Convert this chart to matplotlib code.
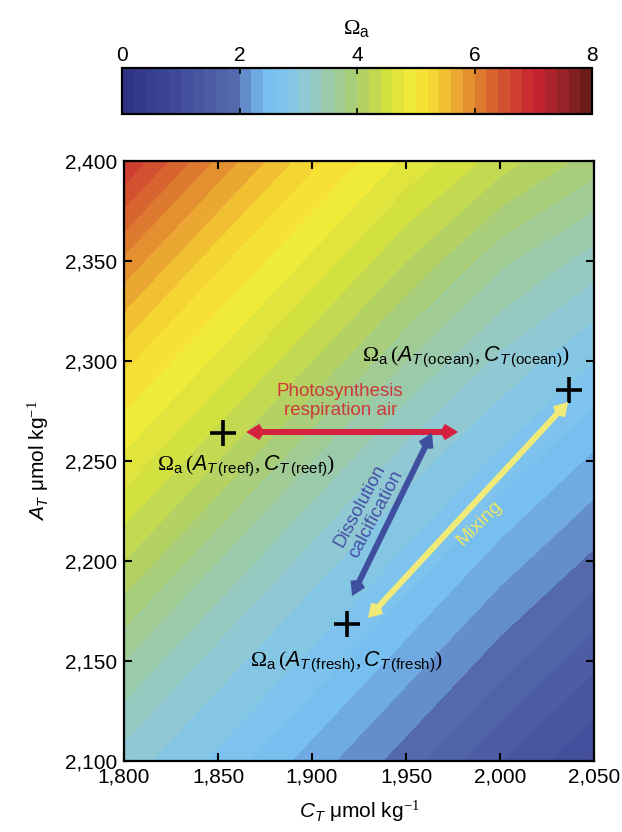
import numpy as np
import matplotlib
matplotlib.use("Agg")
import matplotlib.pyplot as plt
from matplotlib.colors import LinearSegmentedColormap

plt.rcParams["font.family"] = ["Liberation Sans", "DejaVu Sans"]
plt.rcParams["mathtext.fontset"] = "custom"
plt.rcParams["mathtext.rm"] = "Liberation Serif"
plt.rcParams["mathtext.it"] = "Liberation Sans:italic"
plt.rcParams["mathtext.sf"] = "Liberation Sans"

# grid of C_T (columns) and A_T (rows), umol/kg
ct_grid = [1800, 1850, 1900, 1950, 2000, 2050]
at_grid = [2100, 2150, 2200, 2250, 2300, 2350, 2400]
# aragonite saturation at each grid node
omega = [
    [3.10, 2.75, 2.30, 1.90, 1.40, 1.00],
    [3.60, 3.10, 2.75, 2.30, 1.90, 1.45],
    [4.20, 3.60, 3.10, 2.75, 2.30, 1.95],
    [4.75, 4.20, 3.60, 3.10, 2.75, 2.35],
    [5.25, 4.75, 4.20, 3.60, 3.15, 2.80],
    [5.95, 5.25, 4.75, 4.20, 3.65, 3.30],
    [6.80, 5.95, 5.25, 4.75, 4.30, 3.90],
]

# end members (C_T, A_T)
reef = (1852.7, 2264.0)
ocean = (2036.7, 2285.5)
fresh = (1918.6, 2168.5)

# process vectors (start, end) in (C_T, A_T)
photo_arrow = ((1865.0, 2264.5), (1977.7, 2264.5))
calc_arrow = ((1921.3, 2182.5), (1963.8, 2264.0))
mix_arrow = ((1929.8, 2171.5), (2036.2, 2279.5))

colors = [
    (0.00, (45, 50, 130)), (0.12, (65, 75, 155)), (0.24, (85, 105, 172)),
    (0.25, (95, 125, 190)), (0.28, (108, 165, 222)), (0.31, (118, 190, 238)),
    (0.35, (128, 197, 236)), (0.39, (145, 200, 210)), (0.45, (158, 202, 160)),
    (0.50, (172, 206, 110)), (0.56, (208, 223, 65)), (0.62, (245, 235, 55)),
    (0.67, (245, 210, 50)), (0.72, (232, 160, 50)), (0.76, (222, 125, 48)),
    (0.82, (210, 75, 48)), (0.88, (200, 35, 50)), (0.94, (150, 35, 40)),
    (1.00, (100, 25, 25)),
]
cmap = LinearSegmentedColormap.from_list(
    "omega", [(p, tuple(c / 255 for c in rgb)) for p, rgb in colors], N=512)

fig = plt.figure(figsize=(6.22, 8.32), dpi=100)
ax = fig.add_axes([124 / 622, 1 - 761 / 832, 470 / 622, 600 / 832])
cax = fig.add_axes([122 / 622, 1 - 114 / 832, 470 / 622, 46 / 832])

levels = np.arange(0, 8.01, 0.2)
cf = ax.contourf(ct_grid, at_grid, omega, levels=levels, cmap=cmap)

# markers for end members
for pt in (reef, ocean, fresh):
    ax.plot(*pt, marker="+", color="black", markersize=19, mew=2.6)

def arrow(seg, color):
    ax.annotate("", xy=seg[1], xytext=seg[0],
                arrowprops=dict(arrowstyle="<->,head_length=0.65,head_width=0.4",
                                color=color, lw=4.3, shrinkA=0, shrinkB=0,
                                joinstyle="miter", capstyle="butt"))

arrow(photo_arrow, "#d6203f")
arrow(calc_arrow, "#3f4fa0")
arrow(mix_arrow, "#f0ea78")

lab = r"$\Omega_{\mathsf{a}}\,(A_{T\,\mathsf{(%s)}},C_{T\,\mathsf{(%s)}})$"
ax.text(1982, 2302, lab % ("ocean", "ocean"), fontsize=15.5, ha="center", va="center")
ax.text(1865, 2247.5, lab % ("reef", "reef"), fontsize=15.5, ha="center", va="center")
ax.text(1918.6, 2149.5, lab % ("fresh", "fresh"), fontsize=15.5, ha="center", va="center")

ax.text(1915, 2280, "Photosynthesis\nrespiration air", color="#cd3a3c", fontsize=13.5,
        ha="center", va="center", linespacing=1.1)
ax.text(1930, 2225.5, "Dissolution\ncalcification", color="#4650a5", fontsize=13.5,
        ha="center", va="center", rotation=62, linespacing=1.1)
ax.text(1989, 2219, "Mixing", color="#f0e664", fontsize=14,
        ha="center", va="center", rotation=45)

ax.set_xlim(1800, 2050)
ax.set_ylim(2100, 2400)
ax.set_xticks([1800, 1850, 1900, 1950, 2000, 2050])
ax.set_yticks([2100, 2150, 2200, 2250, 2300, 2350, 2400])
ax.set_xticklabels(["1,800", "1,850", "1,900", "1,950", "2,000", "2,050"])
ax.set_yticklabels(["2,100", "2,150", "2,200", "2,250", "2,300", "2,350", "2,400"])
ax.tick_params(direction="in", length=6, width=1.5, top=True, right=True,
               labelsize=15, pad=5)
for s in ax.spines.values():
    s.set_linewidth(1.6)
ax.set_xlabel(r"$C_T$ $\mathsf{\mu}$mol kg$^{-1}$", fontsize=15, labelpad=8)
ax.set_ylabel(r"$A_T$ $\mathsf{\mu}$mol kg$^{-1}$", fontsize=15, labelpad=10)

cb = fig.colorbar(cf, cax=cax, orientation="horizontal")
cb.set_ticks([0, 2, 4, 6, 8])
cax.xaxis.set_ticks_position("both")
cax.tick_params(direction="in", length=4, width=1.2, labeltop=True,
                labelbottom=False, labelsize=15, pad=2.5)
cax.xaxis.set_label_position("top")
cax.set_xlabel(r"$\Omega_{\mathsf{a}}$", fontsize=16, labelpad=8)
cb.outline.set_linewidth(1.6)

fig.savefig("out.png", dpi=100)
